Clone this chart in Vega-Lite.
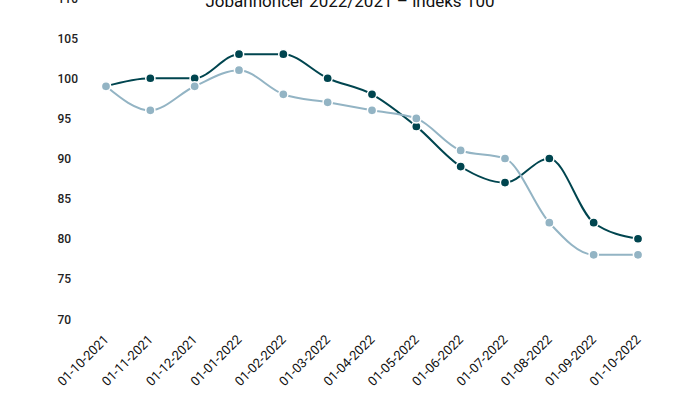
{
  "$schema": "https://vega.github.io/schema/vega-lite/v6.json",
  "autosize": "none",
  "width": 532,
  "height": 321,
  "padding": {"left": 106, "top": -2, "right": 62, "bottom": 74},
  "background": "white",
  "title": {
    "text": "Jobannoncer 2022/2021 – indeks 100",
    "font": "Roboto",
    "fontSize": 17,
    "fontWeight": 400,
    "color": "#111111",
    "anchor": "middle",
    "frame": "group",
    "dx": -22,
    "dy": 32,
    "baseline": "alphabetic",
    "offset": 0
  },
  "config": {
    "view": {"stroke": null},
    "axis": {"labelFont": "Roboto", "labelFontSize": 12, "labelFontWeight": 500, "labelColor": "#222222", "grid": false, "domain": false, "ticks": false, "title": null}
  },
  "data": {
    "values": [
      {"dato": "01-10-2021", "serie": "2022", "indeks": 99},
      {"dato": "01-11-2021", "serie": "2022", "indeks": 100},
      {"dato": "01-12-2021", "serie": "2022", "indeks": 100},
      {"dato": "01-01-2022", "serie": "2022", "indeks": 103},
      {"dato": "01-02-2022", "serie": "2022", "indeks": 103},
      {"dato": "01-03-2022", "serie": "2022", "indeks": 100},
      {"dato": "01-04-2022", "serie": "2022", "indeks": 98},
      {"dato": "01-05-2022", "serie": "2022", "indeks": 94},
      {"dato": "01-06-2022", "serie": "2022", "indeks": 89},
      {"dato": "01-07-2022", "serie": "2022", "indeks": 87},
      {"dato": "01-08-2022", "serie": "2022", "indeks": 90},
      {"dato": "01-09-2022", "serie": "2022", "indeks": 82},
      {"dato": "01-10-2022", "serie": "2022", "indeks": 80},
      {"dato": "01-10-2021", "serie": "2021", "indeks": 99},
      {"dato": "01-11-2021", "serie": "2021", "indeks": 96},
      {"dato": "01-12-2021", "serie": "2021", "indeks": 99},
      {"dato": "01-01-2022", "serie": "2021", "indeks": 101},
      {"dato": "01-02-2022", "serie": "2021", "indeks": 98},
      {"dato": "01-03-2022", "serie": "2021", "indeks": 97},
      {"dato": "01-04-2022", "serie": "2021", "indeks": 96},
      {"dato": "01-05-2022", "serie": "2021", "indeks": 95},
      {"dato": "01-06-2022", "serie": "2021", "indeks": 91},
      {"dato": "01-07-2022", "serie": "2021", "indeks": 90},
      {"dato": "01-08-2022", "serie": "2021", "indeks": 82},
      {"dato": "01-09-2022", "serie": "2021", "indeks": 78},
      {"dato": "01-10-2022", "serie": "2021", "indeks": 78}
    ]
  },
  "encoding": {
    "x": {"field": "dato", "type": "ordinal", "sort": null, "scale": {"type": "point", "padding": 0},
      "axis": {"labelAngle": -45, "labelAlign": "right", "labelBaseline": "middle", "labelPadding": 18, "labelFontSize": 13, "labelFontWeight": 400, "labelColor": "#111111"}},
    "y": {"field": "indeks", "type": "quantitative", "scale": {"domain": [70, 110], "nice": false, "zero": false},
      "axis": {"values": [70, 75, 80, 85, 90, 95, 100, 105, 110], "labelAlign": "left", "labelPadding": 49}},
    "color": {"field": "serie", "type": "nominal", "scale": {"domain": ["2021", "2022"], "range": ["#93b4c4", "#00454f"]}, "legend": null}
  },
  "layer": [
    {"mark": {"type": "line", "interpolate": "monotone", "strokeWidth": 2}},
    {"mark": {"type": "point", "filled": true, "size": 85, "stroke": "white", "strokeWidth": 1.5, "opacity": 1}}
  ]
}
